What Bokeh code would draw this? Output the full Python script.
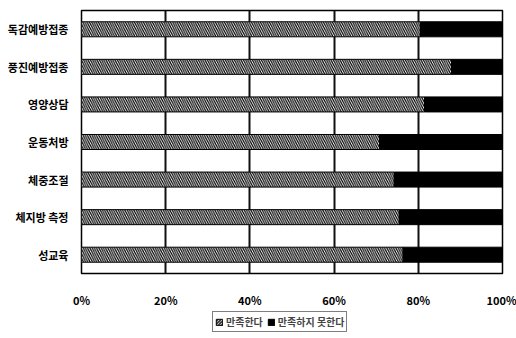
from bokeh.plotting import figure
from bokeh.layouts import column
from bokeh.models import ColumnDataSource, FactorRange, Range1d, Legend, LegendItem, PrintfTickFormatter, FixedTicker
from bokeh.embed import file_html
from bokeh.resources import INLINE

categories = ["독감예방접종", "풍진예방접종", "영양상담", "운동처방", "체중조절", "체지방 측정", "성교육"]
satisfied = [80.5, 87.9, 81.5, 70.8, 74.3, 75.5, 76.4]
not_satisfied = [round(100 - v, 1) for v in satisfied]
series_names = ["만족한다", "만족하지 못한다"]
x_ticks = [0, 20, 40, 60, 80, 100]
grid_ticks = [20, 40, 60, 80]

FONT = "Noto Sans CJK KR"
fills = ["white", "black"]
hatches = ["\\", " "]

src = ColumnDataSource(dict(cat=categories, sat=satisfied, notsat=not_satisfied))

p = figure(width=516, height=310, output_backend="svg", toolbar_location=None,
           y_range=FactorRange(*list(reversed(categories)), range_padding=0),
           x_range=Range1d(0, 100),
           min_border_left=81, min_border_right=14, min_border_top=10, min_border_bottom=28)

# vertical grid lines, drawn beneath the bars
p.vspan(x=grid_ticks, line_color="#111111", line_width=2)

r = p.hbar_stack(["sat", "notsat"], y="cat", height=0.4, source=src,
                 fill_color=fills, line_color="black", line_width=1,
                 hatch_pattern=hatches, hatch_color="black", hatch_scale=4.5, hatch_weight=1.2)

p.outline_line_color = "black"
p.outline_line_width = 1.5
p.grid.grid_line_color = None

p.xaxis.ticker = FixedTicker(ticks=x_ticks)
p.xaxis.formatter = PrintfTickFormatter(format="%d%%")
for ax in (p.xaxis, p.yaxis):
    ax.axis_line_color = None
    ax.major_tick_line_color = None
    ax.minor_tick_line_color = None
    ax.major_label_text_font = FONT
    ax.major_label_text_font_style = "bold"
    ax.major_label_text_color = "black"
    ax.major_label_text_font_size = "11px"
p.xaxis.major_label_standoff = 12
p.yaxis.major_label_standoff = 7

# legend strip
p2 = figure(width=516, height=28, output_backend="svg", toolbar_location=None,
            x_range=Range1d(0, 1), y_range=Range1d(0, 1),
            min_border_left=0, min_border_right=0, min_border_top=0, min_border_bottom=0)
p2.axis.visible = False
p2.grid.grid_line_color = None
p2.outline_line_color = None
lr = []
for i in range(2):
    lr.append(p2.hbar(y=[-10], left=[0], right=[1], height=0.4, fill_color=fills[i], line_color="black",
                      hatch_pattern=hatches[i], hatch_color="black", hatch_scale=3, hatch_weight=1))

legend = Legend(items=[LegendItem(label=series_names[i], renderers=[lr[i]]) for i in range(2)],
                orientation="horizontal", location=(131, 6),
                label_text_font=FONT, label_text_font_size="10px", label_text_font_style="bold",
                glyph_width=8, glyph_height=8, label_standoff=3, spacing=4, label_height=9,
                padding=2, margin=0, border_line_color="black", border_line_width=1.5)
p2.add_layout(legend, "center")

layout = column(p, p2, spacing=0)
open("out.html", "w").write(file_html(layout, INLINE))
